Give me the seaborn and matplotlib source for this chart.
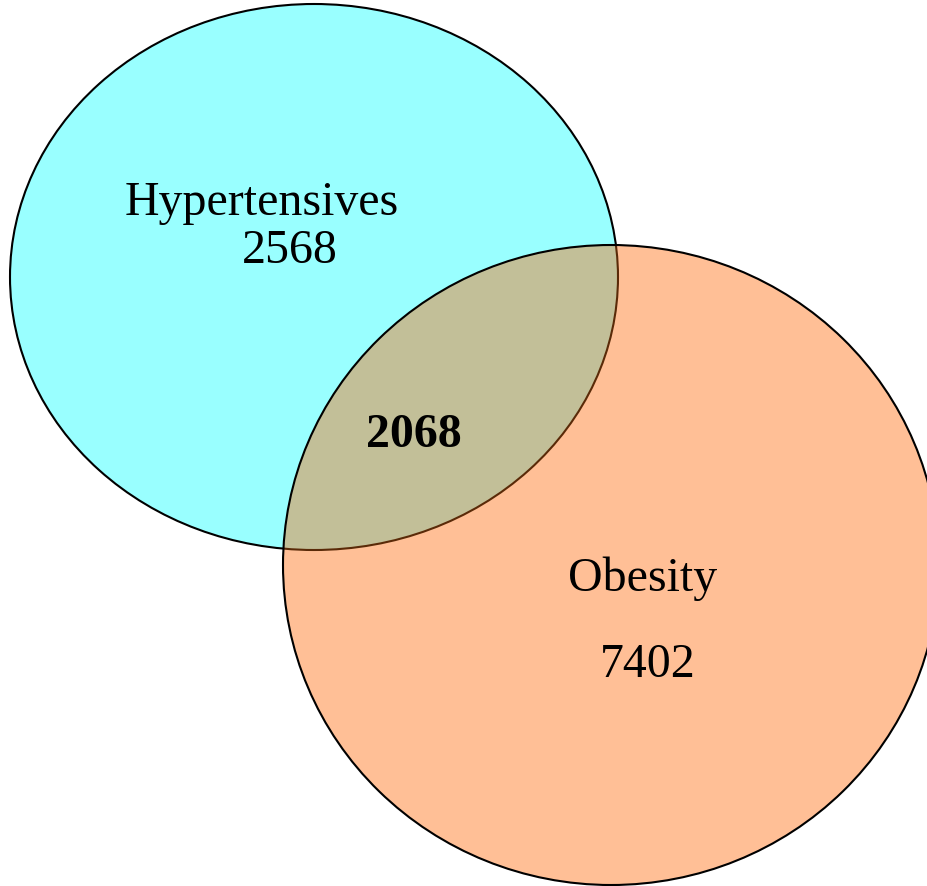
import matplotlib
matplotlib.use("Agg")
import matplotlib.pyplot as plt
from matplotlib.patches import Ellipse
import seaborn as sns

set_names = ["Hypertensives", "Obesity"]
only_counts = [2568, 7402]
overlap_count = 2068

sns.set_theme(style="white")
plt.rcParams['font.family'] = ['Liberation Serif', 'DejaVu Serif']

fig = plt.figure(figsize=(9.28, 8.86), dpi=100)
ax = fig.add_axes([0, 0, 1, 1])
ax.set_xlim(0, 928)
ax.set_ylim(886, 0)
ax.set_aspect('equal')
ax.axis('off')

cyan = "#99FFFF"
orange = "#FFBF96"
olive = "#C2BF98"

# geometry (pixels)
e1 = dict(xy=(314, 277), width=608, height=546)
e2 = dict(xy=(611, 565), width=656, height=640)

# set A
ax.add_patch(Ellipse(**e1, facecolor=cyan, edgecolor="black", lw=1.5, zorder=1))
# set B fill
b_fill = Ellipse(**e2, facecolor=orange, edgecolor="none", zorder=2)
ax.add_patch(b_fill)
# intersection
inter = Ellipse(**e1, facecolor=olive, edgecolor="#5A2A08", lw=1.5, zorder=3)
ax.add_patch(inter)
inter.set_clip_path(b_fill)
# set B edge
ax.add_patch(Ellipse(**e2, facecolor="none", edgecolor="black", lw=1.5, zorder=4))

fs = 34.5
kw = dict(fontsize=fs, ha="center", va="center", color="black", zorder=5)
ax.text(262, 203, set_names[0], **kw)
ax.text(290, 251, str(only_counts[0]), **kw)
ax.text(414, 435, str(overlap_count), fontweight="bold", **kw)
ax.text(643, 579, set_names[1], **kw)
ax.text(648, 665, str(only_counts[1]), **kw)

fig.savefig("out.png", dpi=100)
